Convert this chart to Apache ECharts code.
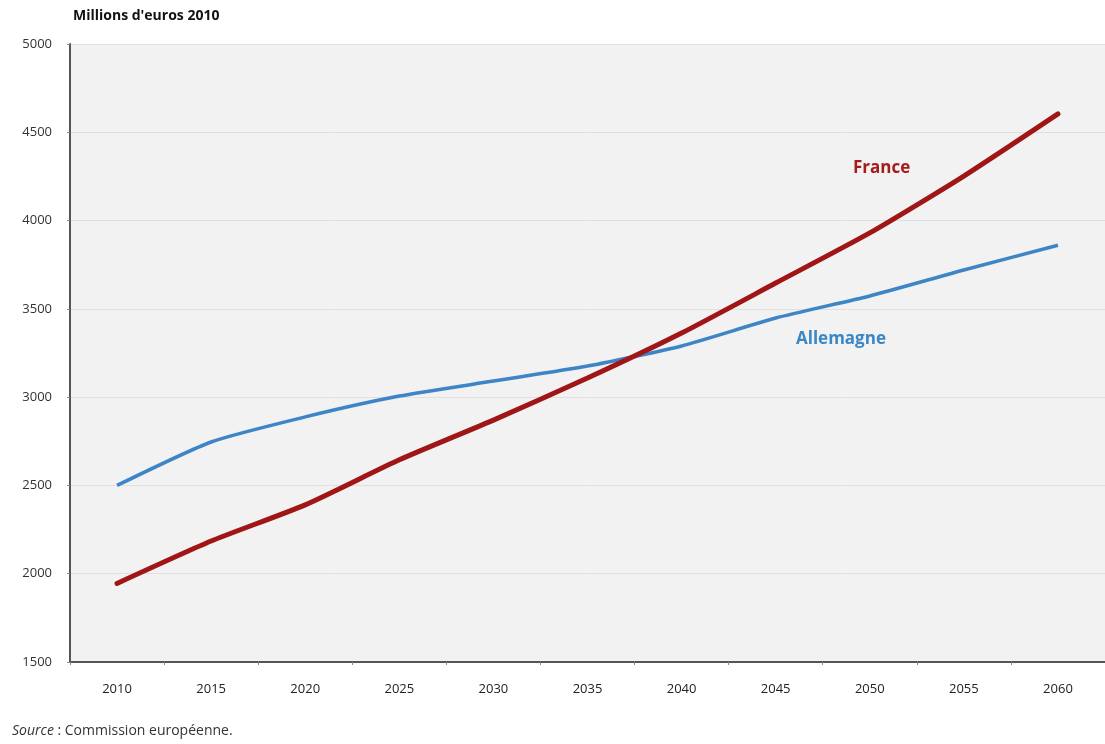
<!DOCTYPE html>
<html>
<head>
<meta charset="utf-8">
<script src="https://cdn.jsdelivr.net/npm/echarts@6/dist/echarts.min.js"></script>
<style>
    html, body { margin: 0; padding: 0; background: #fff; }
    #chart { width: 1105px; height: 744px; }
</style>
</head>
<body>
<div id="chart"></div>
<script>
    const years = ['2010', '2015', '2020', '2025', '2030', '2035', '2040', '2045', '2050', '2055', '2060'];
    const france = [1945, 2185, 2390, 2645, 2870, 3108, 3363, 3646, 3930, 4252, 4604];
    const allemagne = [2500, 2746, 2888, 3006, 3091, 3176, 3290, 3448, 3573, 3720, 3860];

    const font = '"Open Sans", "Noto Sans", sans-serif';
    const chart = echarts.init(document.getElementById('chart'));

    chart.setOption({
        animation: false,
        grid: {
            left: 70,
            width: 1041,
            top: 44,
            bottom: 82,
            show: true,
            backgroundColor: '#f2f2f2',
            borderWidth: 0
        },
        graphic: [
            {
                type: 'text', left: 73, top: 9,
                style: { text: "Millions d'euros 2010", font: 'bold 14px ' + font, fill: '#111' }
            },
            {
                type: 'text', left: 12, top: 724,
                style: {
                    text: '{i|Source} : Commission européenne.',
                    font: '14px ' + font, fill: '#333',
                    rich: { i: { fontStyle: 'italic', fontSize: 14, fontFamily: font, fill: '#333' } }
                }
            },
            {
                type: 'text', left: 853, top: 160,
                style: { text: 'France', font: 'bold 17px ' + font, fill: '#a51c1c' }
            },
            {
                type: 'text', left: 796, top: 331,
                style: { text: 'Allemagne', font: 'bold 17px ' + font, fill: '#3a87c6' }
            }
        ],
        xAxis: {
            type: 'category',
            data: years,
            boundaryGap: true,
            axisLine: { lineStyle: { color: '#555', width: 2 } },
            axisTick: { show: true, length: 3, lineStyle: { color: '#888' } },
            axisLabel: { color: '#222', fontSize: 13, fontFamily: font, margin: 21 }
        },
        yAxis: {
            type: 'value',
            min: 1500,
            max: 5000,
            interval: 500,
            axisLine: { show: true, lineStyle: { color: '#555', width: 2 } },
            axisTick: { show: true, length: 3, lineStyle: { color: '#888' } },
            axisLabel: { color: '#333', fontSize: 13, fontFamily: font, margin: 18, formatter: (v) => String(v) },
            splitLine: { show: true, lineStyle: { color: '#e0e0e0', width: 1 } }
        },
        series: [
            {
                name: 'Allemagne',
                type: 'line',
                data: allemagne,
                symbol: 'none',
                smooth: 0.2,
                lineStyle: { color: '#3d85c6', width: 3.5 },
                z: 2
            },
            {
                name: 'France',
                type: 'line',
                data: france,
                symbol: 'none',
                smooth: 0.2,
                lineStyle: { color: '#a01616', width: 5, cap: 'round' },
                z: 3
            }
        ]
    });
</script>
</body>
</html>
